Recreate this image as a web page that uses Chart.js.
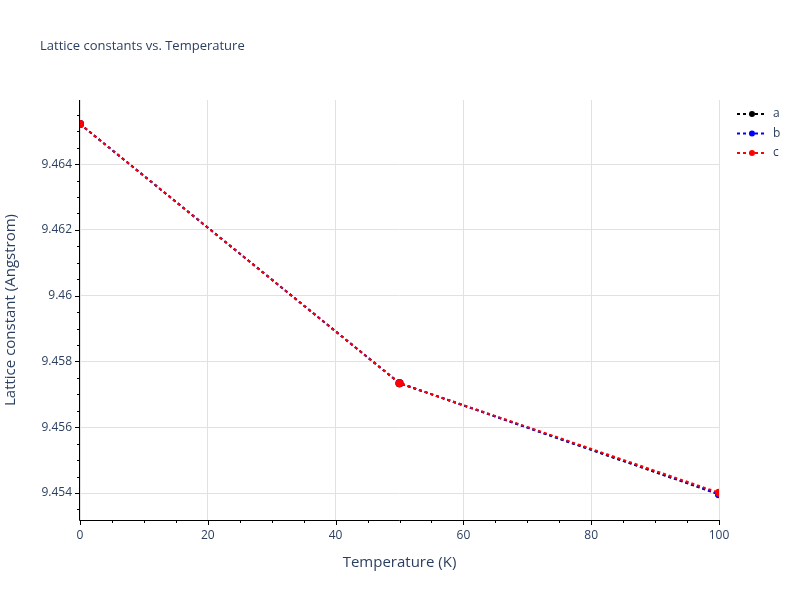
<!DOCTYPE html>
<html>
<head>
<meta charset="utf-8">
<script src="https://cdn.jsdelivr.net/npm/chart.js@4/dist/chart.umd.min.js"></script>
<style>body{margin:0;background:#fff}</style>
</head>
<body>
<canvas id="c" width="800" height="600"></canvas>
<script>
const temperatures = [0, 50, 100];
const latticeA = [9.46522, 9.45734, 9.45396];
const latticeB = [9.46522, 9.45734, 9.45397];
const latticeC = [9.46522, 9.45734, 9.45401];
const xTicks = [0, 20, 40, 60, 80, 100];
const yTicks = [9.454, 9.456, 9.458, 9.46, 9.462, 9.464];
const seriesNames = ['a', 'b', 'c'];
const seriesColors = ['#000000', '#0000ff', '#ff0000'];

const font = '"Open Sans", sans-serif';
const textColor = '#2a3f5f';

function makeSet(i, values) {
    return {
        label: seriesNames[i],
        data: temperatures.map((t, k) => ({x: t, y: values[k]})),
        borderColor: seriesColors[i],
        backgroundColor: seriesColors[i],
        borderDash: [3, 3],
        borderWidth: 2,
        pointRadius: 3,
        pointHoverRadius: 3,
        order: 2 - i
    };
}

const decorations = {
    id: 'decorations',
    afterDraw(chart) {
        const ctx = chart.ctx;
        const a = chart.chartArea;
        const xs = chart.scales.x, ys = chart.scales.y;
        ctx.save();
        // axis lines
        ctx.strokeStyle = '#000';
        ctx.lineWidth = 1;
        ctx.beginPath();
        ctx.moveTo(a.left - 0.5, a.top); ctx.lineTo(a.left - 0.5, a.bottom + 0.5);
        ctx.lineTo(a.right, a.bottom + 0.5);
        ctx.stroke();
        // minor/major ticks
        ctx.beginPath();
        for (let v = 0; v <= 100; v += 5) {
            const px = Math.round(xs.getPixelForValue(v)) + 0.5;
            const len = v % 20 === 0 ? 5 : 3;
            ctx.moveTo(px, a.bottom); ctx.lineTo(px, a.bottom + len);
        }
        for (let k = 0; k <= 25; k++) {
            const v = 9.4535 + k * 0.0005;
            if (v > ys.max) break;
            const py = Math.round(ys.getPixelForValue(v)) + 0.5;
            const len = k % 4 === 1 ? 5 : 3;
            ctx.moveTo(a.left, py); ctx.lineTo(a.left - len, py);
        }
        ctx.stroke();
        // title
        ctx.fillStyle = textColor;
        ctx.font = '13px ' + font;
        ctx.textBaseline = 'middle';
        ctx.fillText('Lattice constants vs. Temperature', 40, 46);
        // axis titles
        ctx.font = '15px ' + font;
        ctx.textAlign = 'center';
        ctx.fillText('Temperature (K)', (a.left + a.right) / 2, 563);
        ctx.save();
        ctx.translate(11, (a.top + a.bottom) / 2);
        ctx.rotate(-Math.PI / 2);
        ctx.fillText('Lattice constant (Angstrom)', 0, 0);
        ctx.restore();
        // legend
        ctx.textAlign = 'left';
        ctx.font = '12px ' + font;
        seriesNames.forEach((n, i) => {
            const y = 114 + i * 19.5;
            ctx.strokeStyle = seriesColors[i];
            ctx.fillStyle = seriesColors[i];
            ctx.lineWidth = 2;
            ctx.setLineDash([3, 3]);
            ctx.beginPath(); ctx.moveTo(737, y); ctx.lineTo(767, y); ctx.stroke();
            ctx.setLineDash([]);
            ctx.beginPath(); ctx.arc(752, y, 3, 0, Math.PI * 2); ctx.fill();
            ctx.fillStyle = textColor;
            ctx.fillText(n, 773, y);
        });
        ctx.restore();
    }
};

new Chart(document.getElementById('c'), {
    type: 'line',
    data: { datasets: [makeSet(0, latticeA), makeSet(1, latticeB), makeSet(2, latticeC)] },
    options: {
        responsive: false,
        animation: false,
        layout: { padding: { left: 0, right: 81, top: 100, bottom: 0 } },
        plugins: { legend: { display: false }, tooltip: { enabled: false } },
        scales: {
            x: {
                type: 'linear', min: 0, max: 100,
                afterBuildTicks: s => { s.ticks = xTicks.map(v => ({value: v})); },
                afterFit: s => { s.height = 80; },
                grid: { color: '#e1e1e1', drawTicks: false },
                border: { display: false },
                ticks: { color: textColor, font: { family: font, size: 12 }, padding: 8 }
            },
            y: {
                type: 'linear', min: 9.45318, max: 9.46595,
                afterBuildTicks: s => { s.ticks = yTicks.map(v => ({value: v})); },
                afterFit: s => { s.width = 80; },
                grid: { color: '#e1e1e1', drawTicks: false },
                border: { display: false },
                ticks: { color: textColor, font: { family: font, size: 12 }, padding: 8,
                    callback: v => String(+v.toFixed(3)) }
            }
        }
    },
    plugins: [decorations]
});
</script>
</body>
</html>
